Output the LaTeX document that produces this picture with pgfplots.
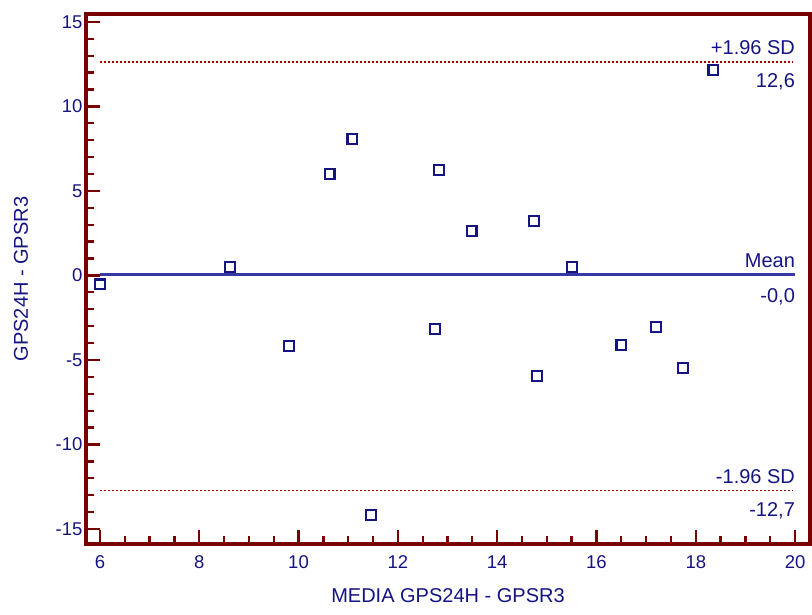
\documentclass[border=0pt]{standalone}
\usepackage{pgfplots}
\pgfplotsset{compat=1.18}
\usepackage{fontspec}
\setmainfont{Liberation Sans}
\definecolor{frame}{RGB}{120,0,0}
\definecolor{txt}{RGB}{20,20,130}
\definecolor{meanc}{RGB}{55,55,165}
\definecolor{sdc}{RGB}{170,0,0}
\begin{document}
\begin{tikzpicture}
\path[use as bounding box] (-86pt,-71pt) rectangle (726pt,544pt);
\begin{axis}[
  at={(0,0)}, anchor=south west,
  scale only axis, width=724pt, height=530pt,
  xmin=5.72, xmax=20.3, ymin=-15.89, ymax=15.47,
  xtick={6,8,...,20}, ytick={-15,-10,...,15},
  minor x tick num=3, minor y tick num=4,
  xtick pos=bottom, ytick pos=left,
  tick align=inside,
  major tick length=14pt, minor tick length=8pt,
  every tick/.style={frame, line width=2.3pt},
  axis line style={frame, line width=3.4pt},
  /pgf/number format/assume math mode=true,
  ticklabel style={font=\fontsize{18.5}{22}\selectfont, text=txt},
  xticklabel style={yshift=-8pt},
  clip=false,
]
\addplot[meanc, line width=3pt] coordinates {(6,0.03) (20,0.03)};
\addplot[sdc, line width=1.1pt, dash pattern=on 2.5pt off 1.5pt] coordinates {(6,12.63) (19.95,12.63)};
\addplot[sdc, line width=1.1pt, dash pattern=on 2.5pt off 1.5pt] coordinates {(6,-12.7) (19.95,-12.7)};
\addplot[only marks, mark=square*, mark size=4.8pt,
  mark options={draw=txt, fill=white, line width=2.3pt}]
coordinates {
(6.00,-0.53) (8.62,0.50) (9.81,-4.17) (10.63,6.01) (11.08,8.08)
(11.46,-14.17) (12.75,-3.17) (12.83,6.24) (13.49,2.63) (14.74,3.22)
(14.80,-5.95) (15.51,0.50) (16.50,-4.11) (17.20,-3.05) (17.74,-5.47)
(18.35,12.16)
};
\begin{scope}[every node/.style={font=\fontsize{20}{24}\selectfont, text=txt, inner sep=0pt}]
\node[anchor=base east] at ([yshift=7pt]axis cs:20,12.63) {+1.96 SD};
\node[anchor=base east] at ([yshift=-26pt]axis cs:20,12.63) {12,6};
\node[anchor=base east] at ([yshift=7pt]axis cs:20,0.03) {Mean};
\node[anchor=base east] at ([yshift=-28pt]axis cs:20,0.03) {-0,0};
\node[anchor=base east] at ([yshift=7pt]axis cs:20,-12.7) {-1.96 SD};
\node[anchor=base east] at ([yshift=-26pt]axis cs:20,-12.7) {-12,7};
\node[anchor=base] at ([yshift=-59pt]axis description cs:0.5,0) {MEDIA GPS24H - GPSR3};
\node[anchor=base, rotate=90] at ([xshift=-58pt]axis description cs:0,0.5) {GPS24H - GPSR3};
\end{scope}
\end{axis}
\end{tikzpicture}
\end{document}
